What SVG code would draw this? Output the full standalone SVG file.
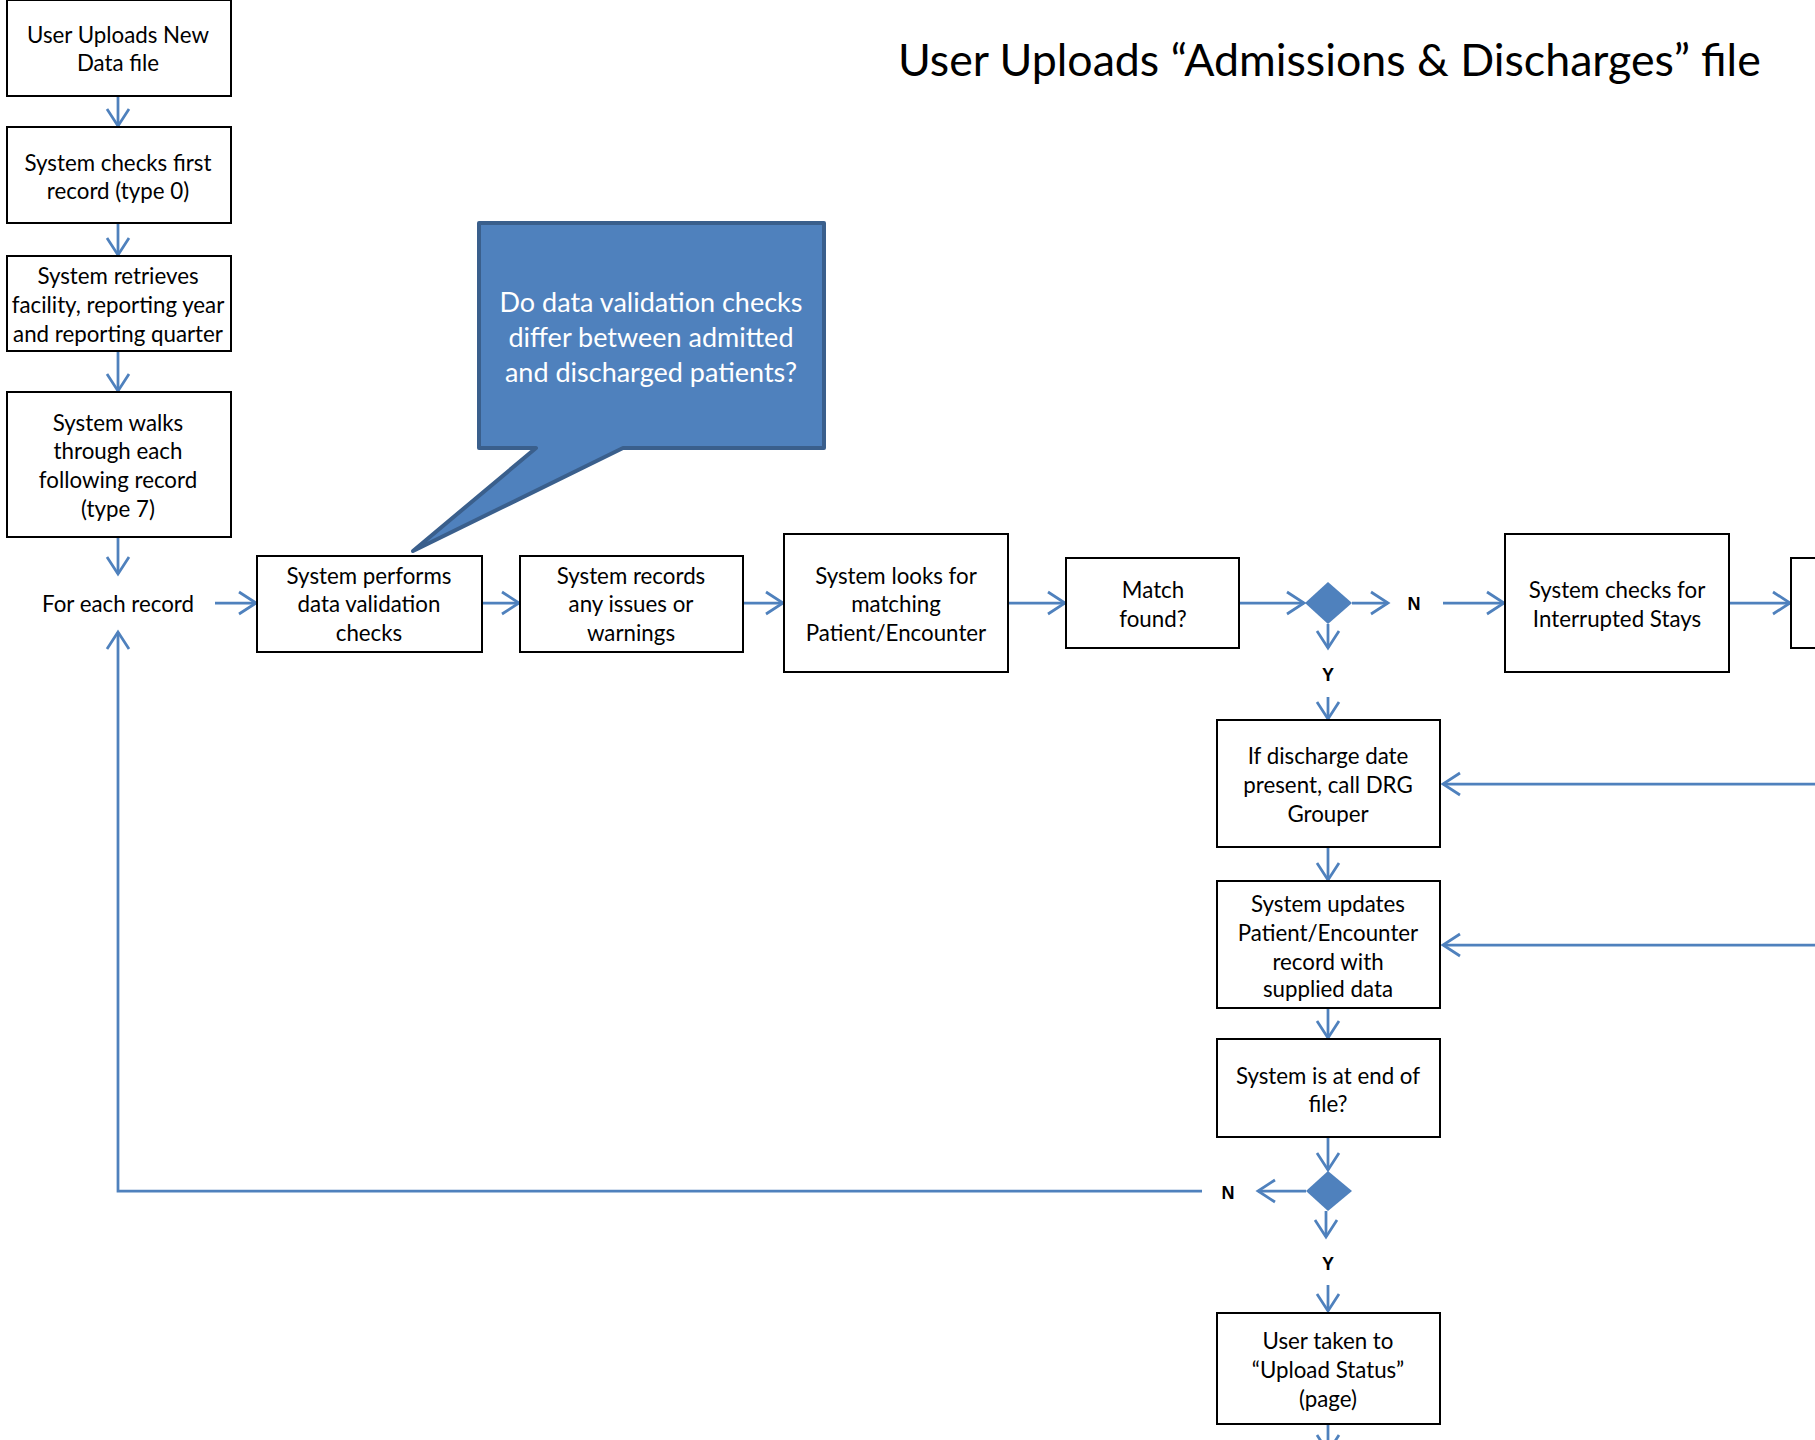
<svg xmlns="http://www.w3.org/2000/svg" width="1815" height="1440" viewBox="0 0 1815 1440">
<style>
.box{fill:#fff;stroke:#000;stroke-width:2}
.t{font-family:Lato,"Liberation Sans",sans-serif;font-size:22.3px;fill:#000;text-anchor:middle}
.lbl{font-family:"Liberation Sans",Arial,sans-serif;font-size:18px;font-weight:bold;fill:#000;text-anchor:middle}
.ca{fill:none;stroke:#4F81BD;stroke-width:2.75;marker-end:url(#arr)}
.dia{fill:#4F81BD;stroke:none}
.title{font-family:Lato,"Liberation Sans",sans-serif;font-size:44.7px;fill:#000}
.ct{font-family:Lato,"Liberation Sans",sans-serif;font-size:27px;fill:#fff;text-anchor:middle}
</style>
<defs>
<marker id="arr" viewBox="-20 -14 24 28" refX="0" refY="0" markerWidth="24" markerHeight="28" markerUnits="userSpaceOnUse" orient="auto" overflow="visible">
<path d="M-17,-11 L0,0 L-17,11" fill="none" stroke="#4F81BD" stroke-width="2.75"/>
</marker>
</defs>
<rect width="1815" height="1440" fill="#fff"/>
<text class="title" x="898" y="76">User Uploads “Admissions &amp; Discharges” file</text>

<g id="connectors">
<line class="ca" x1="118" y1="96" x2="118" y2="126"/>
<line class="ca" x1="118" y1="223" x2="118" y2="255"/>
<line class="ca" x1="118" y1="351" x2="118" y2="391"/>
<line class="ca" x1="118" y1="537" x2="118" y2="574"/>
<line class="ca" x1="215" y1="603" x2="256" y2="603"/>
<line class="ca" x1="482" y1="603" x2="519" y2="603"/>
<line class="ca" x1="743" y1="603" x2="783" y2="603"/>
<line class="ca" x1="1008" y1="603" x2="1065" y2="603"/>
<line class="ca" x1="1239" y1="603" x2="1304" y2="603"/>
<line class="ca" x1="1352" y1="603" x2="1388" y2="603"/>
<line class="ca" x1="1443" y1="603" x2="1504" y2="603"/>
<line class="ca" x1="1729" y1="603" x2="1790" y2="603"/>
<line class="ca" x1="1328" y1="624" x2="1328" y2="648"/>
<line class="ca" x1="1328" y1="697" x2="1328" y2="719"/>
<line class="ca" x1="1815" y1="784" x2="1443" y2="784"/>
<line class="ca" x1="1815" y1="945" x2="1443" y2="945"/>
<line class="ca" x1="1328" y1="847" x2="1328" y2="880"/>
<line class="ca" x1="1328" y1="1008" x2="1328" y2="1038"/>
<line class="ca" x1="1328" y1="1137" x2="1328" y2="1170"/>
<line class="ca" x1="1306" y1="1191" x2="1258" y2="1191"/>
<polyline class="ca" points="1202,1191 118,1191 118,632"/>
<line class="ca" x1="1326" y1="1211" x2="1326" y2="1237"/>
<line class="ca" x1="1328" y1="1285" x2="1328" y2="1311"/>
<line class="ca" x1="1328" y1="1424" x2="1328" y2="1452"/>
</g>

<g id="n1"><rect class="box" x="7" y="0" width="224" height="96"/>
<text class="t" x="118" y="42.5">User Uploads New</text><text class="t" x="118" y="71">Data file</text></g>
<g id="n2"><rect class="box" x="7" y="127" width="224" height="96"/>
<text class="t" x="118" y="170.5">System checks first</text><text class="t" x="118" y="198.5">record (type 0)</text></g>
<g id="n3"><rect class="box" x="7" y="256" width="224" height="95"/>
<text class="t" x="118" y="284">System retrieves</text><text class="t" x="118" y="313">facility, reporting year</text><text class="t" x="118" y="341.5">and reporting quarter</text></g>
<g id="n4"><rect class="box" x="7" y="392" width="224" height="145"/>
<text class="t" x="118" y="431">System walks</text><text class="t" x="118" y="458.5">through each</text><text class="t" x="118" y="487.5">following record</text><text class="t" x="118" y="516.5">(type 7)</text></g>
<g id="n5"><text class="t" x="118" y="611.5">For each record</text></g>
<g id="n6"><rect class="box" x="257" y="556" width="225" height="96"/>
<text class="t" x="369" y="583.5">System performs</text><text class="t" x="369" y="611.5">data validation</text><text class="t" x="369" y="640.5">checks</text></g>
<g id="n7"><rect class="box" x="520" y="556" width="223" height="96"/>
<text class="t" x="631" y="583.5">System records</text><text class="t" x="631" y="611.5">any issues or</text><text class="t" x="631" y="640.5">warnings</text></g>
<g id="n8"><rect class="box" x="784" y="534" width="224" height="138"/>
<text class="t" x="896" y="583.5">System looks for</text><text class="t" x="896" y="611.5">matching</text><text class="t" x="896" y="640.5">Patient/Encounter</text></g>
<g id="n9"><rect class="box" x="1066" y="558" width="173" height="90"/>
<text class="t" x="1153" y="597.5">Match</text><text class="t" x="1153" y="626.5">found?</text></g>
<g id="d1"><polygon class="dia" points="1328,582 1352,603 1328,624 1305,603"/></g>
<g id="lN1"><text class="lbl" x="1414" y="609.5">N</text></g>
<g id="lY1"><text class="lbl" x="1328" y="680.5">Y</text></g>
<g id="n10"><rect class="box" x="1505" y="534" width="224" height="138"/>
<text class="t" x="1617" y="597.5">System checks for</text><text class="t" x="1617" y="626.5">Interrupted Stays</text></g>
<g id="n11"><rect class="box" x="1791" y="558" width="40" height="90"/></g>
<g id="n12"><rect class="box" x="1217" y="720" width="223" height="127"/>
<text class="t" x="1328" y="763.5">If discharge date</text><text class="t" x="1328" y="792.5">present, call DRG</text><text class="t" x="1328" y="821.5">Grouper</text></g>
<g id="n13"><rect class="box" x="1217" y="881" width="223" height="127"/>
<text class="t" x="1328" y="911.5">System updates</text><text class="t" x="1328" y="940.5">Patient/Encounter</text><text class="t" x="1328" y="969.5">record with</text><text class="t" x="1328" y="997">supplied data</text></g>
<g id="n14"><rect class="box" x="1217" y="1039" width="223" height="98"/>
<text class="t" x="1328" y="1083.5">System is at end of</text><text class="t" x="1328" y="1111.5">file?</text></g>
<g id="d2"><polygon class="dia" points="1328,1171 1352,1191 1328,1211 1306,1191"/></g>
<g id="lN2"><text class="lbl" x="1228" y="1198.5">N</text></g>
<g id="lY2"><text class="lbl" x="1328" y="1269.5">Y</text></g>
<g id="n15"><rect class="box" x="1217" y="1313" width="223" height="111"/>
<text class="t" x="1328" y="1348.5">User taken to</text><text class="t" x="1328" y="1377.5">“Upload Status”</text><text class="t" x="1328" y="1406.5">(page)</text></g>

<g id="callout">
<path d="M479,223 H824 V448 H623 L413,551 L536,448 H479 Z" fill="#4F81BD" stroke="#3A5F8C" stroke-width="4" stroke-linejoin="round"/>
<text class="ct" x="651" y="312">Do data validation checks</text>
<text class="ct" x="651" y="347">differ between admitted</text>
<text class="ct" x="651" y="382">and discharged patients?</text>
</g>
</svg>
